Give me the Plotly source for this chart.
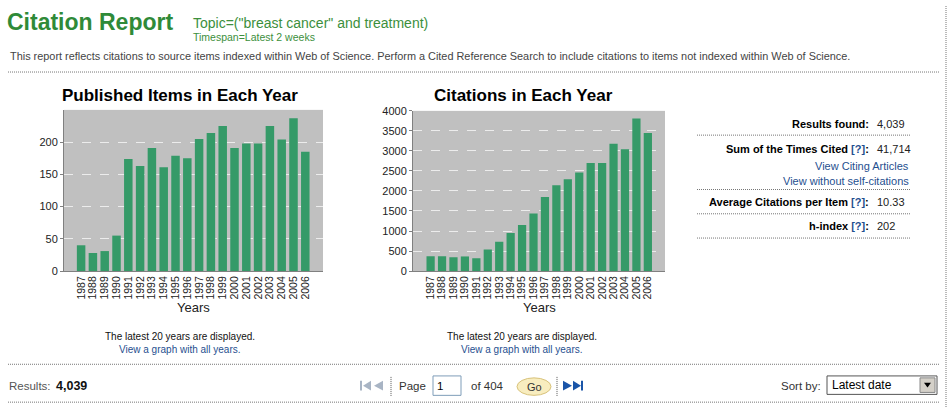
import plotly.graph_objects as go

# ---------------- data ----------------
years = ["1987", "1988", "1989", "1990", "1991", "1992", "1993", "1994", "1995", "1996",
         "1997", "1998", "1999", "2000", "2001", "2002", "2003", "2004", "2005", "2006"]
published_items = [40, 28, 31, 55, 174, 163, 191, 161, 179, 175,
                   205, 214, 225, 191, 198, 198, 225, 204, 237, 185]
citations = [370, 370, 345, 365, 320, 540, 730, 950, 1150, 1440,
             1850, 2140, 2290, 2460, 2700, 2700, 3180, 3040, 3810, 3450]
published_ticks = [0, 50, 100, 150, 200]
citation_ticks = [0, 500, 1000, 1500, 2000, 2500, 3000, 3500, 4000]

results_found = "4,039"
sum_times_cited = "41,714"
avg_citations = "10.33"
h_index = "202"
total_pages = "404"

# ---------------- helpers ----------------
W, H = 951, 413
def X(px):
    return px / W
def Y(py):
    return 1 - py / H

SANS = "Liberation Sans, Arial, sans-serif"
NARROW = "Liberation Sans Narrow, Arial Narrow, Liberation Sans, Arial, sans-serif"
GREEN_T = "#2f8a38"
LINK = "#1f4f8f"
BAR = "#359a68"

annotations = []
shapes = []

def text(x, y, s, size=11, color="#333", anchor="left", family=SANS):
    annotations.append(dict(x=X(x), y=Y(y), xref="paper", yref="paper", text=s,
                            showarrow=False, xanchor=anchor, yanchor="middle",
                            font=dict(size=size, color=color, family=family),
                            borderpad=0))

def dotted_h(x0, x1, y, color="#777"):
    shapes.append(dict(type="line", xref="paper", yref="paper",
                       x0=X(x0), x1=X(x1), y0=Y(y), y1=Y(y),
                       line=dict(color=color, width=1, dash="1px,1px")))

def dotted_v(x, y0, y1, color="#777"):
    shapes.append(dict(type="line", xref="paper", yref="paper",
                       x0=X(x), x1=X(x), y0=Y(y0), y1=Y(y1),
                       line=dict(color=color, width=1, dash="1px,1px")))

def rect(x0, y0, x1, y1, fill, line_color, lw=1):
    shapes.append(dict(type="rect", xref="paper", yref="paper",
                       x0=X(x0), x1=X(x1), y0=Y(y1), y1=Y(y0),
                       fillcolor=fill, line=dict(color=line_color, width=lw)))

def poly(points, fill):
    d = "M " + " L ".join(f"{X(px):.5f},{Y(py):.5f}" for px, py in points) + " Z"
    shapes.append(dict(type="path", xref="paper", yref="paper", path=d,
                       fillcolor=fill, line=dict(width=0)))

# ---------------- figure ----------------
fig = go.Figure()
fig.add_trace(go.Bar(x=years, y=published_items, marker=dict(color=BAR, line=dict(width=0)),
                     xaxis="x", yaxis="y", hoverinfo="x+y"))
fig.add_trace(go.Bar(x=years, y=citations, marker=dict(color=BAR, line=dict(width=0)),
                     xaxis="x2", yaxis="y2", hoverinfo="x+y"))

tickfont = dict(size=11, color="#222", family=SANS)
xfont = dict(size=10.5, color="#222", family=SANS)

def xaxis(domain, anchor, rng):
    return dict(domain=domain, anchor=anchor, type="category", range=rng,
                tickmode="array", tickvals=years, ticktext=years,
                tickangle=-90, tickfont=xfont, showgrid=False, zeroline=False,
                showline=True, linecolor="#808080", linewidth=1, ticks="", fixedrange=True)

def yaxis(domain, anchor, rng, tv):
    return dict(domain=domain, anchor=anchor, range=rng, tickvals=tv, tickfont=tickfont,
                showgrid=True, gridcolor="#ececec", griddash="dash", gridwidth=1,
                zeroline=False, showline=True, linecolor="#808080", linewidth=1,
                ticks="outside", ticklen=3, tickcolor="#808080", fixedrange=True)

fig.update_layout(
    width=W, height=H, autosize=False,
    margin=dict(l=0, r=0, t=0, b=0, pad=0),
    paper_bgcolor="white", plot_bgcolor="#c0c0c0",
    showlegend=False, bargap=0.28,
    xaxis=xaxis([X(64), X(323)], "y", [-1.45, 20.5]),
    yaxis=yaxis([Y(273), Y(107)], "x", [0, 250], published_ticks),
    xaxis2=xaxis([X(413), X(665)], "y2", [-1.54, 20.5]),
    yaxis2=yaxis([Y(273), Y(108)], "x2", [0, 4000], citation_ticks),
)

# ---------------- header ----------------
text(6, 16, "<b>Citation Report</b>", size=23, color=GREEN_T)
text(192, 18, 'Topic=("breast cancer" and treatment)', size=14, color="#3c8f3c")
text(192, 32, "Timespan=Latest 2 weeks", size=10.5, color="#3c8f3c")
text(9, 52, "This report reflects citations to source items indexed within Web of Science. "
            "Perform a Cited Reference Search to include citations to items not indexed within Web of Science.",
     size=10.9, color="#444")
dotted_h(8, 940, 68)
dotted_v(946, 0, 413)

# ---------------- chart titles ----------------
text(180, 92, "<b>Published Items in Each Year</b>", size=17, color="#000", anchor="center")
text(523, 92, "<b>Citations in Each Year</b>", size=17, color="#000", anchor="center")
text(193, 311, "Years", size=13, color="#222", anchor="center")
text(539, 311, "Years", size=13, color="#222", anchor="center")

# ---------------- notes under charts ----------------
for cx in (180, 522):
    text(cx, 340, "The latest 20 years are displayed.", size=10, color="#111", anchor="center", family=NARROW)
    text(cx, 354, "View a graph with all years.", size=10, color=LINK, anchor="center", family=NARROW)

# ---------------- stats panel ----------------
Q = f"<span style='color:{LINK}'>[?]</span>"
text(870, 122, "<b>Results found:</b>", size=11, color="#000", anchor="right")
text(876, 122, results_found, size=11, color="#222")
dotted_h(697, 910, 133)
text(870, 147, f"<b>Sum of the Times Cited {Q}:</b>", size=11, color="#000", anchor="right")
text(876, 147, sum_times_cited, size=11, color="#222")
text(910, 165, "View Citing Articles", size=11, color=LINK, anchor="right")
text(910, 180, "View without self-citations", size=11, color=LINK, anchor="right")
dotted_h(697, 910, 189)
text(870, 202, f"<b>Average Citations per Item {Q}:</b>", size=11, color="#000", anchor="right")
text(876, 202, avg_citations, size=11, color="#222")
dotted_h(697, 910, 214)
text(870, 227, f"<b>h-index {Q}:</b>", size=11, color="#000", anchor="right")
text(876, 227, h_index, size=11, color="#222")
dotted_h(697, 910, 239)

# ---------------- bottom bar ----------------
dotted_h(8, 940, 369)
dotted_h(8, 940, 408)
text(8, 391, "Results:", size=11.5, color="#555", family=NARROW)
text(55, 391, "<b>" + results_found + "</b>", size=12.5, color="#111")

# first / prev icons (disabled, grey-blue)
rect(360, 386, 362, 396, "#a8b4c4", "#a8b4c4", 0)
poly([(363, 391), (371, 386), (371, 396)], "#a8b4c4")
poly([(374, 391), (383, 386), (383, 396)], "#a8b4c4")
dotted_v(391, 382, 402, "#555")
text(398, 391, "Page", size=11.5, color="#333", family=NARROW)
rect(433, 381, 461, 401, "white", "#7f9db9")
text(436, 391, "1", size=11.5, color="#000", family=NARROW)
text(470, 391, "of " + total_pages, size=11.5, color="#333", family=NARROW)
shapes.append(dict(type="circle", xref="paper", yref="paper",
                   x0=X(517), x1=X(551), y0=Y(401), y1=Y(383),
                   fillcolor="#f8edbf", line=dict(color="#d8c27a", width=1)))
text(534, 392, "Go", size=11, color="#333", anchor="center", family=NARROW)
dotted_v(557, 382, 402, "#555")
poly([(563, 386), (572, 391), (563, 396)], "#1a55a8")
poly([(573, 386), (581, 391), (573, 396)], "#1a55a8")
rect(581, 386, 583, 396, "#1a55a8", "#1a55a8", 0)

text(780, 391, "Sort by:", size=11.5, color="#333", family=NARROW)
rect(827, 381, 937, 400, "white", "#555")
text(831, 390, "Latest date", size=12, color="#000", family=NARROW)
rect(920, 383, 935, 398, "#d4d0c8", "#888")
poly([(924, 388), (931, 388), (927.5, 393)], "#000")

fig.update_layout(annotations=annotations, shapes=shapes)
fig.write_html("out.html", config=dict(displayModeBar=False),
               post_script="document.body.style.margin='0';document.body.style.overflow='hidden';")
